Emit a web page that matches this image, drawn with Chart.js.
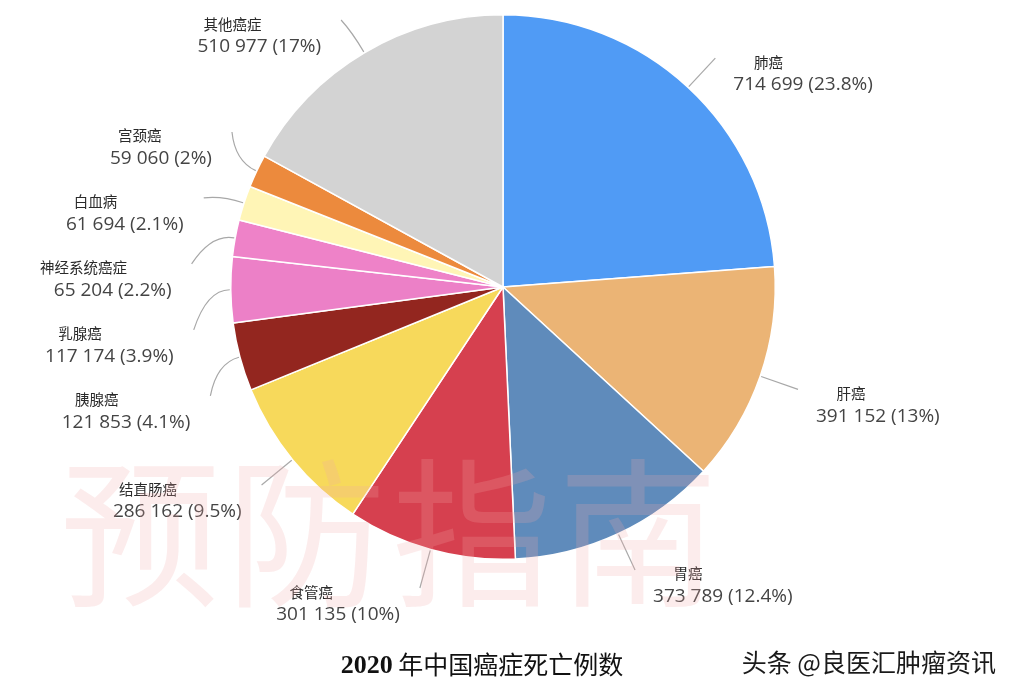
<!DOCTYPE html>
<html>
<head>
<meta charset="utf-8">
<script src="https://cdn.jsdelivr.net/npm/chart.js@4"></script>
<style>
  html, body { margin: 0; padding: 0; background: #fff; }
  #wrap { position: relative; width: 1016px; height: 694px; }
</style>
</head>
<body>
<div id="wrap"><canvas id="chart"></canvas></div>
<script>
const labels = ['肺癌', '肝癌', '胃癌', '食管癌', '结直肠癌', '胰腺癌', '乳腺癌', '神经系统癌症', '白血病', '宫颈癌', '其他癌症'];
const deaths = [714699, 391152, 373789, 301135, 286162, 121853, 117174, 65204, 61694, 59060, 510977];
const colors = ['#509bf5', '#ebb475', '#5f8bbb', '#d6404f', '#f7d95b', '#93261f', '#ec80c7', '#ee82c8', '#fff5b6', '#ec8a3d', '#d3d3d3'];
const chartTitle = '2020 年中国癌症死亡例数';
const credit = '头条 @良医汇肿瘤资讯';
const watermark = '预防指南';

const total = deaths.reduce((a, b) => a + b, 0);

function fmtNum(n) {
    return String(n).replace(/\B(?=(\d{3})+(?!\d))/g, ' ');
}

function fmtPct(v) {
    let s = (v / total * 100).toFixed(1);
    if (s.endsWith('.0')) s = s.slice(0, -2);
    return s + '%';
}

const valueFont = '19px "Open Sans", "Noto Sans", sans-serif';
const nameFont = '14.5px "Noto Sans CJK SC", sans-serif';

// labels outside the pie with leader lines, spread so they do not overlap
const outLabels = {
    id: 'outLabels',
    afterDatasetsDraw(chart) {
        const ctx = chart.ctx;
        const arcs = chart.getDatasetMeta(0).data;
        const cx = arcs[0].x, cy = arcs[0].y, r = arcs[0].outerRadius;
        const R = r + 40;

        const pts = arcs.map((arc, i) => {
            const a = (arc.startAngle + arc.endAngle) / 2;
            return { i, a, left: Math.cos(a) < 0, y: cy + Math.sin(a) * R };
        });

        const gap = 66;
        [true, false].forEach(side => {
            const g = pts.filter(p => p.left === side).sort((p, q) => p.y - q.y);
            for (let it = 0; it < 300; it++) {
                let moved = false;
                for (let k = 1; k < g.length; k++) {
                    const o = gap - (g[k].y - g[k - 1].y);
                    if (o > 0.01) {
                        g[k - 1].y -= o * 0.35;
                        g[k].y += o * 0.65;
                        moved = true;
                    }
                }
                if (g.length && g[0].y < 20) g[0].y = 20;
                if (!moved) break;
            }
        });

        ctx.save();
        pts.forEach(p => {
            const dy = p.y - cy;
            const h = Math.sqrt(Math.max(R * R - dy * dy, 0));
            p.x = cx + (p.left ? -h : h);

            const sx = cx + Math.cos(p.a) * (r + 1), sy = cy + Math.sin(p.a) * (r + 1);
            const kx = cx + Math.cos(p.a) * (r + 24), ky = cy + Math.sin(p.a) * (r + 24);
            ctx.strokeStyle = '#a8a8a8';
            ctx.lineWidth = 1.2;
            ctx.beginPath();
            ctx.moveTo(sx, sy);
            ctx.quadraticCurveTo(kx, ky, p.x, p.y);
            ctx.stroke();

            const num = fmtNum(deaths[p.i]);
            const txt = num + ' (' + fmtPct(deaths[p.i]) + ')';
            ctx.font = valueFont;
            const wNum = ctx.measureText(num).width;
            const wAll = ctx.measureText(txt).width;
            const x0 = p.left ? p.x - 20 - wAll : p.x + 18;
            ctx.fillStyle = '#444444';
            ctx.textAlign = 'left';
            ctx.textBaseline = 'middle';
            ctx.fillText(txt, x0, p.y + 27);
            ctx.font = nameFont;
            ctx.fillStyle = '#2a2a2a';
            ctx.textAlign = 'center';
            ctx.fillText(labels[p.i], x0 + wNum / 2, p.y + 4);
        });

        // faint watermark over the chart
        ctx.font = '160px "Noto Sans CJK SC", sans-serif';
        ctx.fillStyle = 'rgba(240, 170, 170, 0.22)';
        ctx.textAlign = 'left';
        ctx.textBaseline = 'middle';
        Array.from(watermark).forEach((c, k) => ctx.fillText(c, 60 + k * 166, 533));

        // title and credit line
        ctx.fillStyle = '#111';
        ctx.textBaseline = 'middle';
        const yr = chartTitle.split(' ')[0];
        const rest = chartTitle.slice(yr.length);
        const yrFont = 'bold 26px "Liberation Serif", serif';
        const restFont = '25px "Noto Sans CJK SC", sans-serif';
        ctx.font = yrFont;
        const wYr = ctx.measureText(yr).width;
        ctx.font = restFont;
        const wRest = ctx.measureText(rest).width;
        const tx = 482 - (wYr + wRest) / 2;
        ctx.textAlign = 'left';
        ctx.font = yrFont;
        ctx.fillText(yr, tx, 666);
        ctx.font = restFont;
        ctx.fillText(rest, tx + wYr, 664);

        ctx.fillStyle = '#1a1a1a';
        ctx.font = '25px "Noto Sans CJK SC", sans-serif';
        ctx.textAlign = 'right';
        ctx.fillText(credit, 996, 662);
        ctx.restore();
    }
};

new Chart(document.getElementById('chart'), {
    type: 'pie',
    data: {
        labels: labels,
        datasets: [{
            data: deaths,
            backgroundColor: colors,
            borderColor: '#ffffff',
            borderWidth: 1.5
        }]
    },
    options: {
        responsive: true,
        maintainAspectRatio: false,
        animation: false,
        events: [],
        layout: { padding: { left: 230, right: 240, top: 13, bottom: 133 } },
        plugins: {
            legend: { display: false },
            tooltip: { enabled: false }
        }
    },
    plugins: [outLabels]
});
</script>
</body>
</html>
